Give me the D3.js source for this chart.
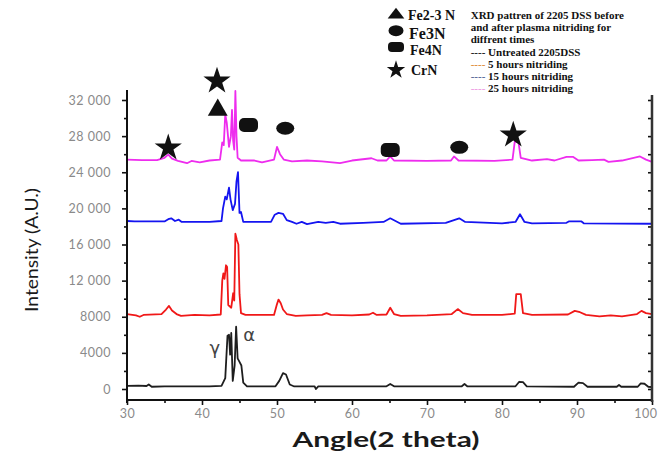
<!DOCTYPE html>
<html>
<head>
<meta charset="utf-8">
<script src="https://cdn.jsdelivr.net/npm/d3@7"></script>
<style>
    body { margin: 0; background: #fff; }
    svg { display: block; }
</style>
</head>
<body>
<div id="chart"></div>
<script>

// tick values
const angleTicks = [30, 40, 50, 60, 70, 80, 90, 100];
const intensityTicks = [0, 4000, 8000, 12000, 16000, 20000, 24000, 28000, 32000];

// [2 theta, intensity]
const untreated = [
    [30, 350], [31.5, 380], [32.6, 330], [32.9, 500], [33.3, 250], [35, 280], [38, 300], [41, 280],
    [42.6, 350], [43.1, 1200], [43.4, 5900], [43.6, 6000], [43.75, 3800], [43.9, 6200], [44.1, 900],
    [44.35, 2600], [44.55, 6900], [44.75, 3400], [45.0, 3000], [45.25, 2600], [45.5, 700], [46, 300],
    [49.8, 300], [50.3, 900], [50.8, 1750], [51.2, 1600], [51.7, 500], [52.3, 280], [55.0, 300],
    [55.2, 0], [55.5, 280], [64.6, 300], [65.1, 550], [65.6, 300], [74.6, 280], [75.0, 550],
    [75.4, 280], [81.8, 300], [82.3, 800], [82.8, 750], [83.3, 300], [89.6, 250], [90.2, 700],
    [90.8, 650], [91.4, 250], [95.3, 250], [95.6, 450], [95.9, 250], [98.1, 250], [98.5, 630],
    [99.0, 580], [99.5, 250], [100, 200]
];

const nitrided5h = [
    [30, 8300], [31.2, 8150], [31.7, 8000], [32.2, 8200], [34.6, 8300], [35.2, 8800], [35.6, 9200],
    [36.0, 8700], [36.6, 8300], [37.2, 8100], [39, 8200], [41, 8150], [42.5, 8250], [42.7, 12000],
    [42.85, 12800], [43.0, 12200], [43.2, 13700], [43.35, 13500], [43.5, 9300], [43.9, 9000],
    [44.15, 10600], [44.3, 9800], [44.45, 17200], [44.65, 16500], [44.85, 16000], [45.0, 10500],
    [45.2, 8400], [45.8, 8200], [49.6, 8200], [50.0, 9400], [50.2, 9900], [50.5, 9500], [50.8, 8800],
    [51.3, 8300], [52.5, 8100], [54, 8150], [56.0, 8200], [56.6, 8400], [57.2, 8200], [60, 8150],
    [62.3, 8250], [62.8, 8450], [63.3, 8200], [64.6, 8250], [65.1, 9000], [65.6, 8300], [66.5, 8100],
    [70, 8150], [73.3, 8300], [74.1, 8850], [74.8, 8400], [76, 8200], [80, 8200], [81.7, 8350],
    [81.9, 10500], [82.5, 10500], [82.8, 8400], [84, 8200], [88.8, 8250], [89.7, 8650], [90.4, 8500],
    [91.2, 8200], [93, 8050], [94.5, 8150], [96, 8050], [98, 8300], [98.6, 8650], [99.2, 8400],
    [100, 8300]
];

const nitrided15h = [
    [30, 18600], [31, 18550], [35, 18550], [35.5, 18800], [35.9, 18900], [36.4, 18600], [36.9, 18750],
    [37.3, 18500], [41, 18500], [42.6, 18600], [42.8, 20000], [43.1, 21300], [43.3, 21000],
    [43.6, 22300], [43.8, 21000], [44.1, 19800], [44.4, 20500], [44.6, 23000], [44.8, 24000],
    [45.0, 19500], [45.2, 19600], [45.5, 18500], [49.2, 18500], [49.7, 19300], [50.2, 19500],
    [50.8, 19400], [51.3, 18700], [52, 18500], [52.6, 18300], [53.3, 18500], [54, 18250], [55.5, 18500],
    [56.5, 18400], [57.5, 18500], [58.4, 18300], [61.5, 18400], [64.2, 18500], [65.1, 18900],
    [65.8, 18600], [66.5, 18300], [72.5, 18400], [73.6, 18700], [74.3, 18900], [75.1, 18500],
    [80, 18350], [81.8, 18500], [82.4, 19350], [83.0, 18500], [84, 18350], [88.6, 18400],
    [88.9, 18550], [90.6, 18550], [90.9, 18350], [100, 18300]
];

const nitrided25h = [
    [30, 25400], [32, 25350], [34, 25350], [35.0, 25600], [35.5, 25950], [36.0, 25500], [36.8, 25250],
    [38, 25000], [38.6, 25250], [39.7, 25100], [41, 25300], [42.4, 25400], [42.7, 27300], [42.9, 27000],
    [43.1, 30400], [43.3, 29500], [43.6, 26800], [43.85, 28000], [44.0, 30900], [44.15, 27500],
    [44.3, 26500], [44.45, 33000], [44.6, 28000], [44.75, 25600], [45.2, 25300], [47, 25300],
    [48, 25100], [49.6, 25400], [50.0, 26800], [50.4, 26000], [50.9, 25400], [52, 25200], [54, 25300],
    [56, 25200], [58.4, 25000], [60, 25300], [62.6, 25550], [63.4, 25300], [64.6, 25300], [65.1, 25750],
    [65.6, 25300], [70, 25250], [73.2, 25300], [73.6, 25750], [74.2, 25300], [79, 25250], [81.4, 25400],
    [81.7, 27400], [82.2, 27300], [82.5, 25600], [84, 25300], [86, 25450], [87, 25300], [88.6, 25700],
    [89.5, 25700], [90.2, 25300], [92, 25350], [93.6, 25400], [94.2, 25150], [96, 25300], [98.4, 25750],
    [99.2, 25400], [100, 25150]
];

const seriesNames = ["Untreated 2205DSS", "5 hours nitriding", "15 hours nitriding", "25 hours nitriding"];

// phase symbols placed over the peaks
const phaseMarks = [
    {phase: "CrN", angle: 35.5, intensity: 26700},
    {phase: "CrN", angle: 42.0, intensity: 34100},
    {phase: "Fe2-3 N", angle: 42.1, intensity: 30900},
    {phase: "Fe4N", angle: 46.2, intensity: 29230},
    {phase: "Fe3N", angle: 51.1, intensity: 28870},
    {phase: "Fe4N", angle: 65.1, intensity: 26460},
    {phase: "Fe3N", angle: 74.3, intensity: 26760},
    {phase: "CrN", angle: 81.5, intensity: 28130}
];

const peakLabels = [
    {label: "γ", angle: 41.7, intensity: 4540},
    {label: "α", angle: 46.3, intensity: 5980}
];

const legendPhases = ["Fe2-3 N", "Fe3N", "Fe4N", "CrN"];
const legendTitle = ["XRD pattren of 2205 DSS before", "and after plasma nitriding for", "diffrent times"];


class xrd_pattern{

    constructor(div_id, width, height){
        var self = this;
        self.width = width;
        self.height = height;
        self.colors = ["#1e1e1e", "#f01818", "#1414f0", "#ee2cee"];
        self.dashColors = ["#222", "#e09040", "#5a6a9a", "#eea0e4"];

        self.svg = d3.select(`#${div_id}`).append("svg")
            .attr("width", width)
            .attr("height", height)

        self.xScale = d3.scaleLinear()
            .domain([30, 100])
            .range([127, 652])

        self.yScale = d3.scaleLinear()
            .domain([0, 32000])
            .range([389, 100])
    }

    phase_symbol(sel, phase, small){
        var self = this;
        if(phase == "CrN"){
            sel.append("path").attr("d", d3.symbol(d3.symbolStar, small ? 105 : 230)()).attr("fill", "#111")
        }
        else if(phase == "Fe2-3 N"){
            sel.append("path").attr("d", d3.symbol(d3.symbolTriangle, small ? 120 : 170)())
                .attr("transform", small ? "scale(1,0.75)" : null)
                .attr("fill", "#111")
        }
        else if(phase == "Fe3N"){
            sel.append("ellipse").attr("rx", small ? 7.5 : 9).attr("ry", small ? 5.5 : 6.5).attr("fill", "#111")
        }
        else{
            let w = small ? 16 : 19, h = small ? 10 : 14;
            sel.append("rect").attr("x", -w/2).attr("y", -h/2).attr("width", w).attr("height", h)
                .attr("rx", small ? 4 : 5).attr("fill", "#111")
        }
    }

    draw(){
        var self = this;
        let x = self.xScale, y = self.yScale;
        let fmt = d => d >= 10000 ? d3.format(",")(d).replace(",", " ") : String(d);

        // series
        let line = d3.line()
            .x(d => x(d[0]))
            .y(d => y(d[1]))

        let all = [untreated, nitrided5h, nitrided15h, nitrided25h];
        self.svg.append("g")
            .attr("class", "lines")
            .selectAll("path")
            .data(all)
            .enter()
            .append("path")
                .attr("d", d => line(d))
                .attr("fill", "none")
                .attr("stroke", (d, i) => self.colors[i])
                .attr("stroke-width", 1.8)
                .attr("stroke-linejoin", "round")

        // left axis
        let left = self.svg.append("g")
            .attr("class", "y-axis")
            .attr("transform", `translate(${x(30)}, 0)`)
            .call(d3.axisLeft(y).tickValues(intensityTicks).tickSize(5).tickPadding(11).tickFormat(fmt))
        left.select(".domain").remove()
        self.svg.append("g")
            .attr("transform", `translate(${x(30)}, 0)`)
            .call(d3.axisLeft(y).tickValues(d3.range(2000, 32000, 4000)).tickSize(3).tickFormat(""))
            .select(".domain").remove()

        // bottom axis
        let bottom = self.svg.append("g")
            .attr("class", "x-axis")
            .attr("transform", "translate(0, 400)")
            .call(d3.axisBottom(x).tickValues(angleTicks).tickSize(5).tickPadding(4))
        bottom.select(".domain").remove()
        // last label sits at the window edge
        bottom.selectAll(".tick text").filter(d => d == 100)
            .attr("text-anchor", "end")
            .attr("x", 5)
        self.svg.append("g")
            .attr("transform", "translate(0, 400)")
            .call(d3.axisBottom(x).tickValues(d3.range(35, 100, 10)).tickSize(3).tickFormat(""))
            .select(".domain").remove()

        // right axis, ticks inside
        self.svg.append("g")
            .attr("transform", `translate(${x(100)}, 0)`)
            .call(d3.axisLeft(y).tickValues(d3.range(0, 33000, 2000)).tickSize(4).tickFormat(""))
            .select(".domain").remove()

        self.svg.selectAll(".tick line").attr("stroke", "#111").attr("stroke-width", 1.6)
        self.svg.selectAll(".tick text")
            .attr("fill", "#8a8a8a")
            .style("font-family", "Lato, sans-serif")
            .style("font-size", "12.5px")
            .style("letter-spacing", "0.5px")

        self.svg.append("line").attr("x1", x(30)).attr("x2", x(30)).attr("y1", 90).attr("y2", 403)
            .attr("stroke", "#111").attr("stroke-width", 2)
        self.svg.append("line").attr("x1", x(30)).attr("x2", x(100)).attr("y1", 400).attr("y2", 400)
            .attr("stroke", "#111").attr("stroke-width", 2)
        self.svg.append("line").attr("x1", x(100)).attr("x2", x(100)).attr("y1", 95).attr("y2", 402)
            .attr("stroke", "#333").attr("stroke-width", 2.5)

        // axis titles
        self.svg.append("text")
            .attr("transform", "translate(38, 250) rotate(-90)")
            .attr("text-anchor", "middle")
            .attr("textLength", 124)
            .attr("lengthAdjust", "spacingAndGlyphs")
            .style("font-family", "Lato, sans-serif")
            .style("font-size", "18px")
            .attr("fill", "#1a1a1a")
            .text("Intensity (A.U.)")

        self.svg.append("text")
            .attr("x", 386).attr("y", 447)
            .attr("text-anchor", "middle")
            .attr("textLength", 187)
            .attr("lengthAdjust", "spacingAndGlyphs")
            .style("font-family", "Lato, sans-serif")
            .style("font-size", "21px")
            .style("font-weight", "bold")
            .attr("fill", "#1a1a1a")
            .text("Angle(2 theta)")

        // phase markers
        phaseMarks.forEach(m => {
            let g = self.svg.append("g").attr("transform", `translate(${x(m.angle)}, ${y(m.intensity)})`)
            self.phase_symbol(g, m.phase, false)
        })

        self.svg.selectAll(".peak-label")
            .data(peakLabels)
            .enter()
            .append("text")
                .attr("class", "peak-label")
                .attr("x", d => x(d.angle))
                .attr("y", d => y(d.intensity))
                .attr("text-anchor", "middle")
                .attr("dominant-baseline", "central")
                .style("font-family", "DejaVu Sans, sans-serif")
                .style("font-size", "18px")
                .attr("fill", "#444")
                .text(d => d.label)

        // phase legend
        let legY = [15, 30.7, 47, 70];
        let legText = [20, 39, 55, 75];
        let legSize = [14, 16, 14, 14];
        legendPhases.forEach((p, i) => {
            let g = self.svg.append("g").attr("transform", `translate(396, ${legY[i]})`)
            self.phase_symbol(g, p, true)
            self.svg.append("text")
                .attr("x", 408 + (i == 3 ? 3 : i)).attr("y", legText[i])
                .style("font-family", "Liberation Serif, serif")
                .style("font-weight", "bold")
                .style("font-size", legSize[i] + "px")
                .attr("fill", "#111")
                .text(p)
        })

        // series legend
        let block = self.svg.append("g").attr("transform", "translate(470.7, 0)")
            .style("font-family", "Liberation Serif, serif")
            .style("font-weight", "bold")
            .style("font-size", "11px")
        legendTitle.forEach((t, i) => {
            block.append("text").attr("y", 19 + i * 12.2).attr("fill", "#111").text(t)
        })
        seriesNames.forEach((s, i) => {
            let t = block.append("text").attr("y", 19 + (i + 3) * 12.2).attr("fill", "#111")
            t.append("tspan").attr("fill", self.dashColors[i]).text("----")
            t.append("tspan").text(" " + s)
        })
    }
}

let chart = new xrd_pattern("chart", 658, 457);
chart.draw();
</script>
</body>
</html>
